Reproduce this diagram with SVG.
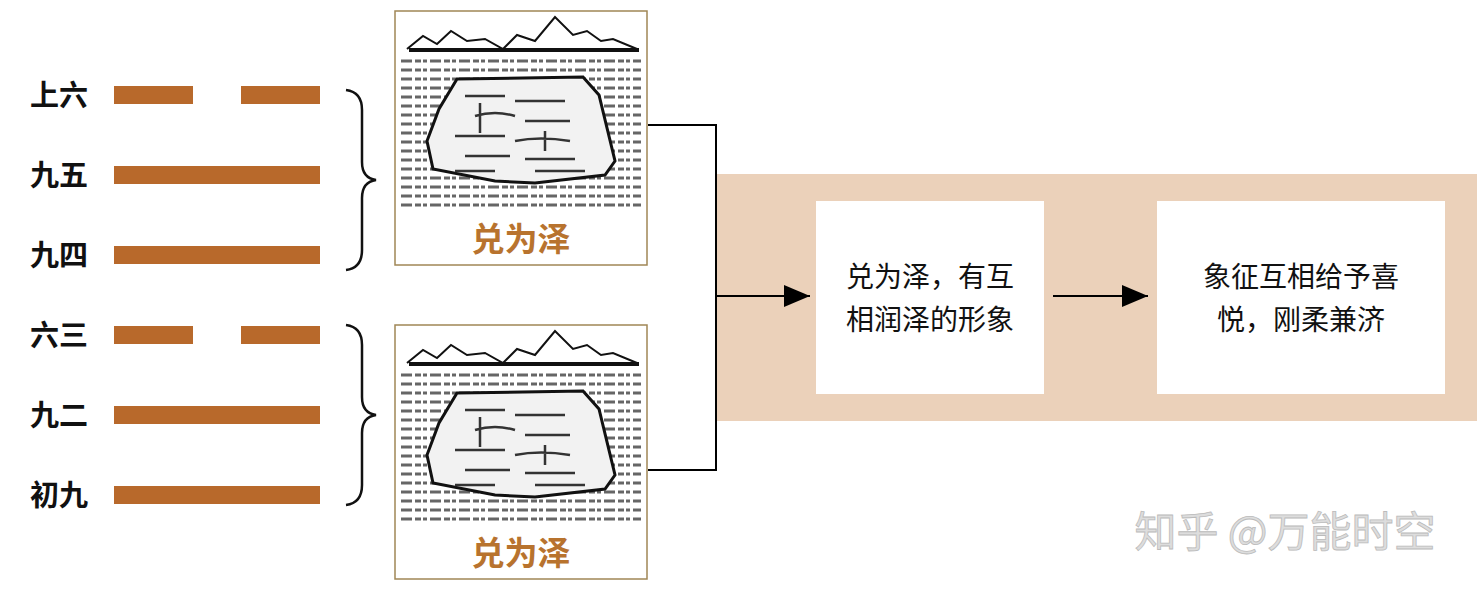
<svg xmlns="http://www.w3.org/2000/svg" width="1482" height="592" viewBox="0 0 1482 592">
<style>
.lbl{font-family:"Noto Sans CJK SC",sans-serif;font-size:29px;font-weight:bold;fill:#111}
.yao{fill:#b8692b}
.cap{font-family:"Noto Sans CJK SC",sans-serif;font-size:33px;font-weight:bold;fill:#b8732e;text-anchor:middle}
.box{font-family:"Noto Sans CJK SC",sans-serif;font-size:28px;fill:#111;text-anchor:middle}
.br{fill:none;stroke:#111;stroke-width:2.5}
.ln{fill:none;stroke:#000;stroke-width:2}
.hatch{stroke:#666;stroke-width:3;stroke-dasharray:11 3 6 2 4 3}
</style>
<defs>
<marker id="a2" viewBox="0 0 10 10" refX="10" refY="5" markerWidth="26" markerHeight="22" orient="auto" markerUnits="userSpaceOnUse" preserveAspectRatio="none"><path d="M0,0 L10,5 L0,10z"/></marker>
<g id="pic">
<rect x="0" y="0" width="252" height="254" fill="#fff" stroke="#a08656" stroke-width="1.5"/>
<g class="hatch">
<line x1="6" y1="50" x2="246" y2="50"/><line x1="6" y1="59" x2="246" y2="59"/><line x1="6" y1="68" x2="246" y2="68"/><line x1="6" y1="77" x2="246" y2="77"/><line x1="6" y1="86" x2="246" y2="86"/><line x1="6" y1="95" x2="246" y2="95"/><line x1="6" y1="104" x2="246" y2="104"/><line x1="6" y1="113" x2="246" y2="113"/><line x1="6" y1="122" x2="246" y2="122"/><line x1="6" y1="131" x2="246" y2="131"/><line x1="6" y1="140" x2="246" y2="140"/><line x1="6" y1="149" x2="246" y2="149"/><line x1="6" y1="158" x2="246" y2="158"/><line x1="6" y1="167" x2="246" y2="167"/><line x1="6" y1="176" x2="246" y2="176"/><line x1="6" y1="185" x2="246" y2="185"/><line x1="6" y1="194" x2="246" y2="194"/>
</g>
<path d="M62,68 L188,66 L204,84 L220,150 L210,164 L140,172 L100,170 L38,158 L32,130 L44,98z" fill="#f2f2f2" stroke="#111" stroke-width="3"/>
<g stroke="#333" stroke-width="2.5" fill="none">
<path d="M70,85 h40 M120,90 h50 M80,105 q20,-6 40,0 M130,110 h45 M60,125 h50 M120,130 q25,-5 55,0 M70,145 h45 M130,148 h50 M60,160 h40 M140,160 h50 M85,92 v30 M150,120 v20"/>
</g>
<path d="M12,38 L28,25 L42,33 L56,20 L72,30 L90,28 L108,38 L122,24 L140,30 L160,6 L178,24 L192,20 L206,30 L218,28 L242,38" fill="none" stroke="#111" stroke-width="2"/>
<line x1="14" y1="39" x2="244" y2="39" stroke="#111" stroke-width="4"/>
<text x="126" y="240" class="cap">兑为泽</text>
</g>
</defs>
<g id="labels">
<text x="30" y="106" class="lbl">上六</text>
<text x="30" y="186" class="lbl">九五</text>
<text x="30" y="266" class="lbl">九四</text>
<text x="30" y="346" class="lbl">六三</text>
<text x="30" y="426" class="lbl">九二</text>
<text x="30" y="506" class="lbl">初九</text>
</g>
<g id="hexagram">
<rect class="yao" x="114" y="86" width="79" height="18"/><rect class="yao" x="241" y="86" width="79" height="18"/>
<rect class="yao" x="114" y="166" width="206" height="18"/>
<rect class="yao" x="114" y="246" width="206" height="18"/>
<rect class="yao" x="114" y="326" width="79" height="18"/><rect class="yao" x="241" y="326" width="79" height="18"/>
<rect class="yao" x="114" y="406" width="206" height="18"/>
<rect class="yao" x="114" y="486" width="206" height="18"/>
</g>
<g id="braces">
<path class="br" d="M346,90 Q362,92 362,110 L362,162 Q362,178 376,180 Q362,182 362,198 L362,250 Q362,268 346,270"/>
<path class="br" d="M346,325 Q362,327 362,345 L362,397 Q362,413 376,415 Q362,417 362,433 L362,485 Q362,503 346,505"/>
</g>
<g id="upper-trigram"><use href="#pic" x="395" y="11"/></g>
<g id="lower-trigram"><use href="#pic" x="395" y="325"/></g>
<g id="band"><rect x="717" y="174" width="760" height="247" fill="#ebd1ba"/></g>
<g id="box1"><rect x="816" y="201" width="228" height="193" fill="#fff"/>
<text class="box"><tspan x="930" y="287">兑为泽，有互</tspan><tspan x="930" y="330">相润泽的形象</tspan></text></g>
<g id="box2"><rect x="1157" y="201" width="288" height="193" fill="#fff"/>
<text class="box"><tspan x="1301" y="287">象征互相给予喜</tspan><tspan x="1301" y="330">悦，刚柔兼济</tspan></text></g>
<g id="connectors">
<path class="ln" d="M648,125 H716 V470 H648"/>
<line class="ln" x1="716" y1="296" x2="810" y2="296" marker-end="url(#a2)"/>
<line class="ln" x1="1053" y1="296" x2="1148" y2="296" marker-end="url(#a2)"/>
</g>
<text x="1285" y="547" font-family="Noto Sans CJK SC,sans-serif" font-size="42" fill="#ddd" stroke="#bbb" stroke-width="0.8" text-anchor="middle">知乎 @万能时空</text>
</svg>
